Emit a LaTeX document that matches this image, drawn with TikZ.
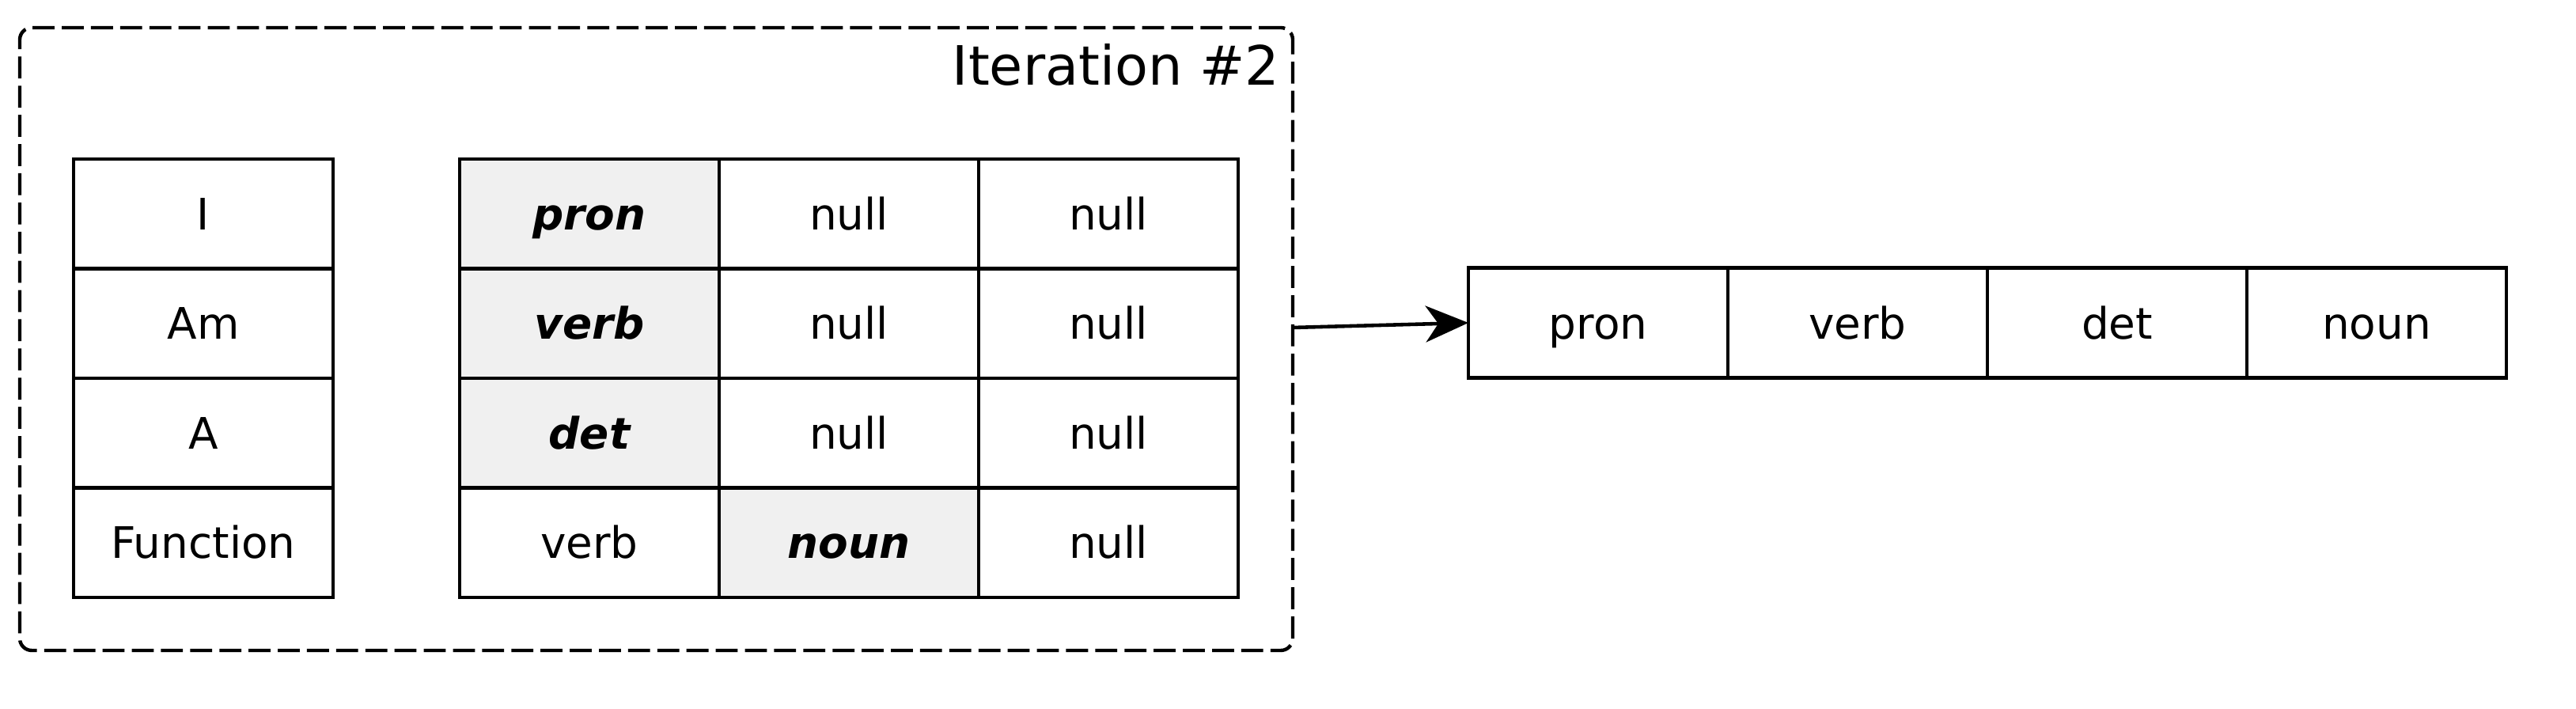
\documentclass[tikz,border=0pt]{standalone}
\usepackage{fontspec}
\setmainfont{DejaVu Sans}
\usetikzlibrary{positioning,arrows.meta}
\definecolor{CellGray}{RGB}{240,240,240}
\tikzset{
  flow/.style={-{Stealth[length=5.4mm,width=4.6mm,inset=1.6mm]},line width=1.3pt},
  cell/.style={draw=black,line width=1.3pt,minimum width=3.28cm,minimum height=1.385cm,
    inner sep=0pt,outer sep=0pt,text height=12.6pt,text depth=1.2pt,
    font=\fontsize{15.6}{18}\selectfont},
  hitcell/.style={cell,fill=CellGray,font=\fontsize{15.6}{18}\selectfont\bfseries\itshape},
  iterframe/.style={draw=black,line width=1.25pt,dash pattern=on 7.9pt off 2.6pt,
    rounded corners=4.3pt,inner sep=0pt,outer sep=0pt}
}
\begin{document}
\begin{tikzpicture}
  \useasboundingbox (0,0) rectangle (32.56,8.96);
  % iteration frame
  \node[iterframe,minimum width=16.09cm,minimum height=7.87cm] (iter) at (8.295,4.675) {};
  \node[anchor=base east,inner sep=0pt,font=\fontsize{19.5}{23}\selectfont] (itlabel) at (16.18,7.88) {Iteration \#2};
  % words
  \node[cell] (w1) at (2.57,6.2575) {I};
  \node[cell,below=0pt of w1] (w2) {Am};
  \node[cell,below=0pt of w2] (w3) {A};
  \node[cell,below=0pt of w3] (w4) {Function};
  % tag table
  \node[hitcell] (g11) at (7.45,6.2575) {pron};
  \node[cell,right=0pt of g11] (g12) {null};
  \node[cell,right=0pt of g12] (g13) {null};
  \node[hitcell,below=0pt of g11] (g21) {verb};
  \node[cell,right=0pt of g21] (g22) {null};
  \node[cell,right=0pt of g22] (g23) {null};
  \node[hitcell,below=0pt of g21] (g31) {det};
  \node[cell,right=0pt of g31] (g32) {null};
  \node[cell,right=0pt of g32] (g33) {null};
  \node[cell,below=0pt of g31] (g41) {verb};
  \node[hitcell,right=0pt of g41] (g42) {noun};
  \node[cell,right=0pt of g42] (g43) {null};
  % result
  \node[cell] (t1) at (20.20,4.88) {pron};
  \node[cell,right=0pt of t1] (t2) {verb};
  \node[cell,right=0pt of t2] (t3) {det};
  \node[cell,right=0pt of t3] (t4) {noun};
  \draw[flow] ([yshift=1.45mm]iter.east) -- (t1.west);
\end{tikzpicture}
\end{document}
